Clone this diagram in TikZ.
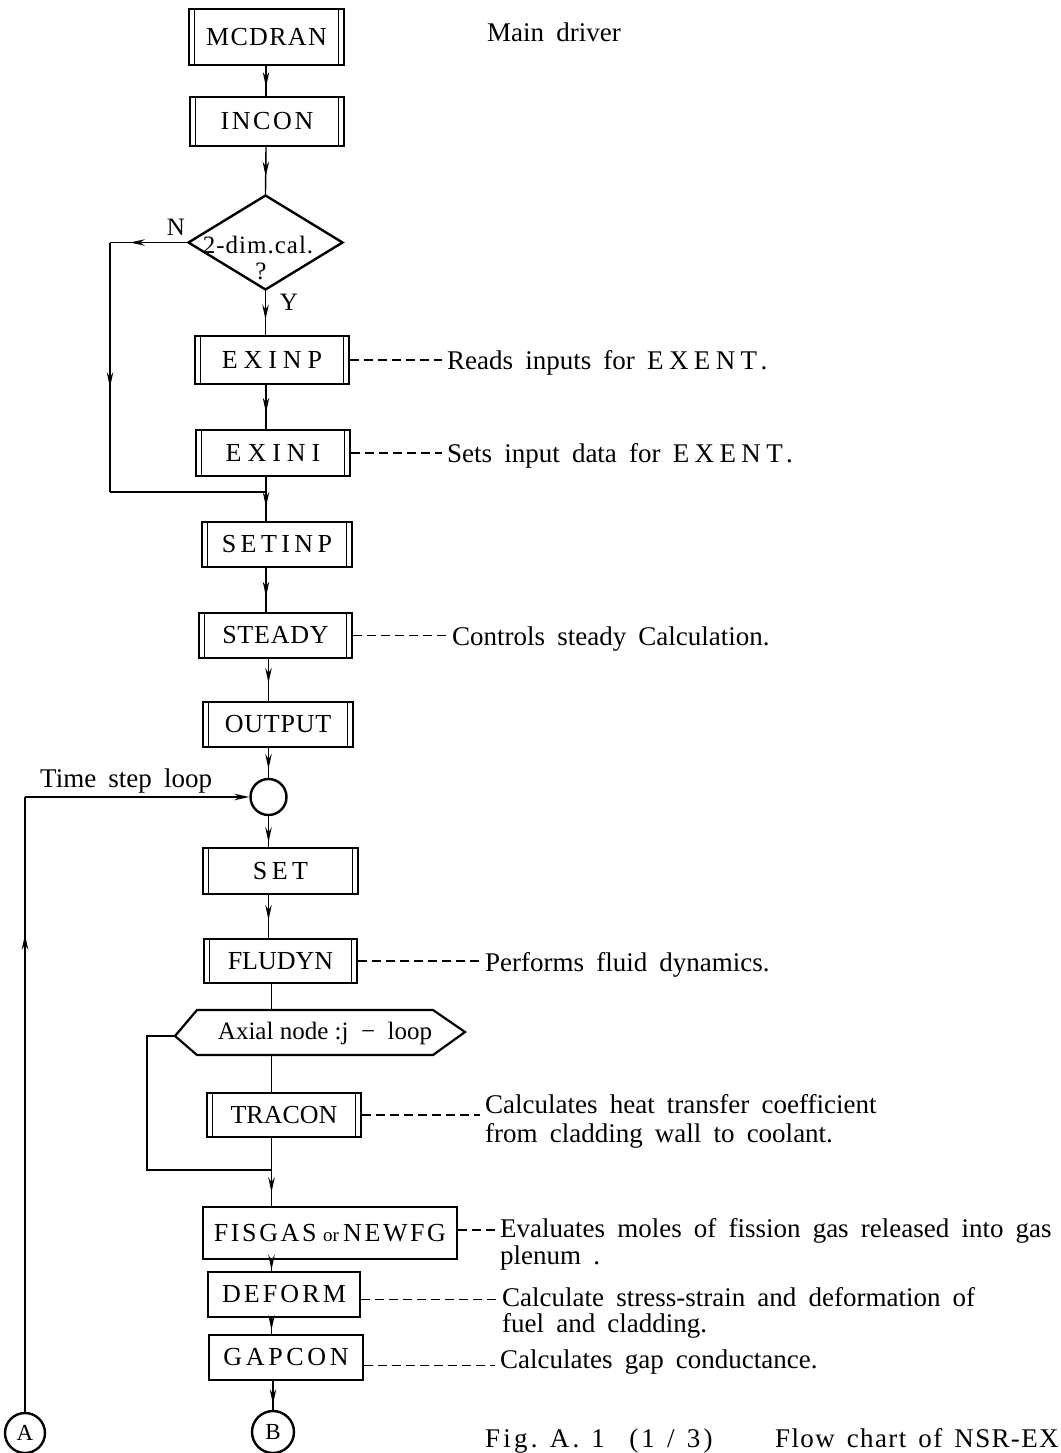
\documentclass[tikz,border=0pt]{standalone}
\usepackage{fontspec}
\setmainfont{Liberation Serif}
\usetikzlibrary{arrows.meta,decorations.markings,shapes.geometric}
\newcommand{\LS}[2]{{\addfontfeature{LetterSpace=#1}#2}}
\begin{document}
\begin{tikzpicture}[x=1pt,y=-1pt,
  conn/.style={line width=1.4pt},
  marr/.style={postaction={decorate},decoration={markings,mark=at position #1 with {\arrow{Stealth[length=15pt,width=6.5pt,inset=5pt]}}}},
  pbox/.style={draw,line width=2.4pt,inner sep=0pt,font=\fontsize{26}{28}\selectfont,
     path picture={\draw[line width=1.1pt]
        ([xshift=5.5pt]path picture bounding box.north west) -- ([xshift=5.5pt]path picture bounding box.south west)
        ([xshift=-5.5pt]path picture bounding box.north east) -- ([xshift=-5.5pt]path picture bounding box.south east);}},
  sbox/.style={draw,line width=2.4pt,inner sep=0pt,font=\fontsize{26}{28}\selectfont},
  desc/.style={anchor=base west,inner sep=0pt,font={\fontsize{27}{30}\selectfont\spaceskip=0.45em\relax}},
  lead/.style={line width=1.3pt,dash pattern=on 9pt off 5pt,shorten >=5pt},
  jcirc/.style={circle,draw,line width=2.4pt,inner sep=0pt},
  lbl/.style={inner sep=0pt,font=\fontsize{25}{27}\selectfont}
]
\path[use as bounding box,fill=white] (0,0) rectangle (1060,1453);

% axis coordinates
\coordinate (ax1) at (266,0);
\coordinate (ax2) at (268.5,0);
\coordinate (ax3) at (271.5,0);
\coordinate (ax4) at (273,0);

% boxes
\node[pbox,minimum width=155pt,minimum height=56pt] (mcdran) at (266.5,37) {\LS{5}{MCDRAN}};
\node[pbox,minimum width=154pt,minimum height=49pt] (incon) at (267,121.5) {\LS{10}{INCON}};
\node[diamond,draw,line width=2.4pt,minimum width=155pt,minimum height=95pt,inner sep=0pt] (dia) at (265.5,242.5) {};
\node[lbl] (dtxt) at (258,245) {\LS{4}{2-dim.cal.}};
\node[lbl] (dq) at (261,271) {?};
\node[lbl] (nlab) at (176,227) {N};
\node[lbl] (ylab) at (289,302) {Y};
\node[pbox,minimum width=154pt,minimum height=48pt] (exinp) at (272,360) {\LS{23}{EXINP}};
\node[pbox,minimum width=154pt,minimum height=46pt] (exini) at (273,453) {\LS{23}{EXINI}};
\node[pbox,minimum width=150pt,minimum height=45pt] (setinp) at (277,544.5) {\LS{17}{SETINP}};
\node[pbox,minimum width=153pt,minimum height=45pt] (steady) at (275.5,635.5) {\LS{3}{STEADY}};
\node[pbox,minimum width=150pt,minimum height=45pt] (output) at (278,724.5) {\LS{3}{OUTPUT}};
\node[jcirc,minimum size=36pt] (jc) at (268.5,797) {};
\node[pbox,minimum width=155pt,minimum height=46pt] (set) at (280.5,871) {\LS{17}{SET}};
\node[pbox,minimum width=153pt,minimum height=44pt] (fludyn) at (280.5,961) {FLUDYN};

% hexagon (loop)
\coordinate (hexW) at (175,1036);
\coordinate (hexNW) at (197,1010);
\coordinate (hexNE) at (433,1010);
\coordinate (hexE) at (465,1032);
\coordinate (hexSE) at (433,1055);
\coordinate (hexSW) at (197,1055);
\coordinate (hexN) at (271.5,1010);
\coordinate (hexS) at (271.5,1055);
\draw[line width=2.2pt] (hexW) -- (hexNW) -- (hexNE) -- (hexE) -- (hexSE) -- (hexSW) -- cycle;
\node[lbl] (hexlbl) at (325,1033) {Axial node :j \ − \ loop};

\node[pbox,minimum width=154pt,minimum height=44pt] (tracon) at (284,1115) {TRACON};
\node[sbox,minimum width=254pt,minimum height=52pt] (fisgas) at (330,1233) {\LS{10}{FISGAS} {\fontsize{19}{20}\selectfont or}\,\LS{10}{NEWFG}};
\node[sbox,minimum width=152pt,minimum height=45pt] (deform) at (284,1294.5) {\LS{12}{DEFORM}};
\node[sbox,minimum width=154pt,minimum height=45pt] (gapcon) at (286,1357.5) {\LS{14}{GAPCON}};
\node[jcirc,minimum size=42pt,font=\fontsize{23}{24}\selectfont] (B) at (273,1432) {B};
\node[jcirc,minimum size=40pt,font=\fontsize{23}{24}\selectfont] (A) at (25,1433) {A};

% main connectors
\draw[conn,marr=0.7] (mcdran.south -| ax1) -- (incon.north -| ax1);
\draw[conn,marr=0.63] (incon.south -| ax1) -- (dia.north);
\draw[conn,marr=0.65] (dia.south) -- (dia.south |- exinp.north);
\draw[conn,marr=0.63] (exinp.south -| ax1) -- (exini.north -| ax1);
\draw[conn,marr=0.68] (exini.south -| ax1) -- (setinp.north -| ax1);
\draw[conn,marr=0.65] (setinp.south -| ax1) -- (steady.north -| ax1);
\draw[conn,marr=0.57] (steady.south -| ax2) -- (output.north -| ax2);
\draw[conn,marr=0.7] (output.south -| ax2) -- (jc.north);
\draw[conn,marr=0.85] (jc.south) -- (set.north -| ax2);
\draw[conn,marr=0.58] (set.south -| ax2) -- (fludyn.north -| ax2);
\draw[conn] (fludyn.south -| ax3) -- (hexN);
\draw[conn] (hexS) -- (tracon.north -| ax3);
\draw[conn,marr=0.8] (tracon.south -| ax3) -- (fisgas.north -| ax3);
\draw[conn,marr=0.9] (fisgas.south -| ax3) -- (deform.north -| ax3);
\draw[conn,marr=0.75] (deform.south -| ax3) -- (gapcon.north -| ax3);
\draw[conn,marr=0.8] (gapcon.south -| ax4) -- (B.north);

% N branch
\coordinate (nT) at (110,242.5);
\coordinate (nB) at (110,492);
\coordinate (nJ) at (266,492);
\draw[conn,marr=0.74] (dia.west) -- (nT);
\draw[conn,marr=0.58] (nT) -- (nB);
\draw[conn] (nB) -- (nJ);

% j-loop
\coordinate (lpT) at (147,1036);
\coordinate (lpB) at (147,1170);
\coordinate (lpJ) at (271.5,1170);
\draw[conn] (hexW) -- (lpT) -- (lpB) -- (lpJ);

% time step loop
\coordinate (tl) at (25,797);
\draw[conn,marr=0.776] (A.north) -- (tl);
\draw[conn,-{Stealth[length=15pt,width=6.5pt,inset=5pt]}] (tl) -- (jc.west);
\node[desc] (tsl) at (40,787) {Time step loop};

% descriptions
\node[desc] (d0) at (487,42) {Main driver};
\node[desc] (d1) at (447,369) {Reads inputs for \LS{20}{EXENT.}};
\node[desc] (d2) at (447,462) {Sets input data for \LS{20}{EXENT.}};
\node[desc] (d3) at (452,645) {Controls steady Calculation.};
\node[desc] (d4) at (485,971) {Performs fluid dynamics.};
\node[desc] (d5) at (485,1113) {Calculates heat transfer coefficient};
\node[desc] (d5b) at (485,1142) {from cladding wall to coolant.};
\node[desc] (d6) at (500,1237) {Evaluates moles of fission gas released into gas};
\node[desc] (d6b) at (500,1264) {plenum .};
\node[desc] (d7) at (502,1306) {Calculate stress-strain and deformation of};
\node[desc] (d7b) at (502,1332) {fuel and cladding.};
\node[desc] (d8) at (500,1368) {Calculates gap conductance.};

\draw[lead] (exinp.east) -- (exinp.east -| d1.west);
\draw[lead] (exini.east) -- (exini.east -| d2.west);
\draw[lead] (steady.east) -- (steady.east -| d3.west);
\draw[lead] (fludyn.east) -- (fludyn.east -| d4.west);
\draw[lead] (tracon.east) -- (tracon.east -| d5.west);
\draw[lead] ([yshift=3pt]fisgas.east) -- ([yshift=3pt]fisgas.east -| d6.west);
\draw[lead] ([yshift=-5pt]deform.east) -- ([yshift=-5pt]deform.east -| d7.west);
\draw[lead] ([yshift=-8pt]gapcon.east) -- ([yshift=-8pt]gapcon.east -| d8.west);

% caption
\node[desc] (cap1) at (485,1447) {\LS{12}{Fig.\ A.\ 1 \ (1 / 3)}};
\node[desc] (cap2) at (775,1447) {\LS{5}{Flow chart of NSR-EX}};
\end{tikzpicture}
\end{document}
